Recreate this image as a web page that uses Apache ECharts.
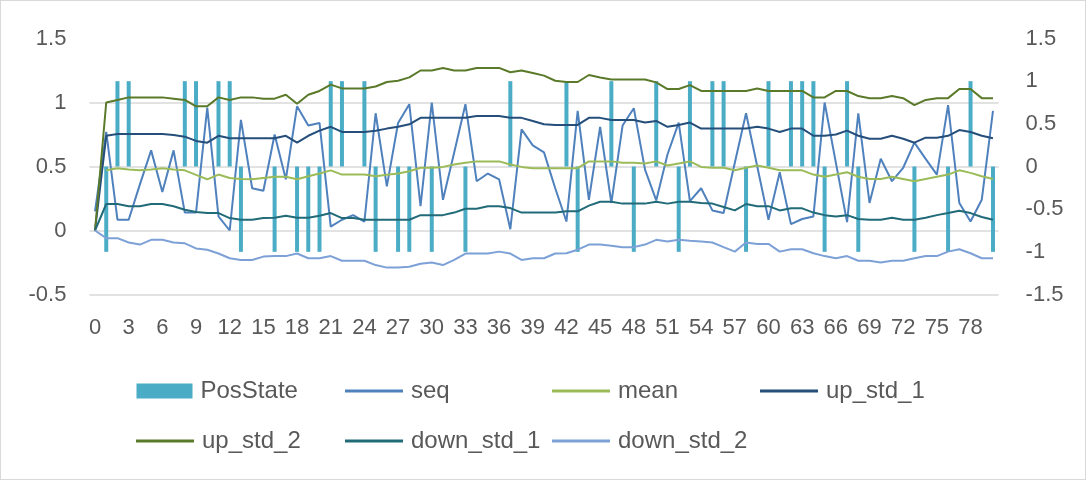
<!DOCTYPE html>
<html>
<head>
<meta charset="utf-8">
<script src="https://cdn.jsdelivr.net/npm/echarts@6/dist/echarts.min.js"></script>
<style>
html,body{margin:0;padding:0;background:#fff;}
#c{width:1084px;height:478px;border:1px solid #d9d9d9;}
</style>
</head>
<body>
<div id="c"></div>
<script>
const categories = Array.from({length: 81}, (_, i) => String(i));
const leftTicks = [-0.5, 0, 0.5, 1, 1.5];
const rightTicks = [-1.5, -1, -0.5, 0, 0.5, 1, 1.5];

const posState = [0,-1,1,1,0,0,0,0,1,1,0,1,1,-1,0,0,-1,0,-1,-1,-1,1,1,0,1,-1,0,-1,-1,0,
  -1,0,0,-1,0,0,0,1,0,0,0,0,1,-1,0,0,1,0,-1,0,1,0,-1,1,0,1,1,0,-1,0,
  1,0,1,1,1,-1,0,1,-1,0,0,0,0,-1,0,0,-1,0,1,0,-1];
const seq = [0.15,0.77,0.084,0.084,0.36,0.626,0.30,0.626,0.14,0.14,0.96,0.11,0.0,0.864,0.33,0.31,0.75,0.40,0.97,0.82,
  0.84,0.03,0.084,0.12,0.07,0.916,0.345,0.84,0.987,0.19,1.0,0.24,0.61,0.987,0.385,0.445,0.40,0.01,0.79,0.665,
  0.61,0.33,0.07,0.935,0.24,0.81,0.215,0.82,0.955,0.476,0.235,0.594,0.843,0.23,0.33,0.157,0.136,0.53,0.916,0.50,
  0.084,0.455,0.05,0.09,0.11,1.0,0.53,0.065,0.916,0.215,0.56,0.385,0.49,0.686,0.56,0.437,0.98,0.215,0.07,0.24,0.935];
const mean = [null,0.47,0.487,0.476,0.47,0.476,0.487,0.476,0.47,0.435,0.40,0.437,0.41,0.403,0.40,0.41,0.42,0.42,0.40,0.424,
  0.445,0.47,0.437,0.437,0.437,0.424,0.435,0.445,0.463,0.49,0.49,0.497,0.516,0.53,0.54,0.54,0.54,0.516,0.497,0.487,
  0.487,0.487,0.487,0.487,0.54,0.54,0.54,0.53,0.53,0.524,0.54,0.508,0.524,0.54,0.497,0.49,0.49,0.47,0.49,0.508,
  0.49,0.47,0.47,0.47,0.437,0.42,0.437,0.455,0.42,0.403,0.403,0.42,0.403,0.385,0.403,0.42,0.437,0.47,0.45,0.424,0.403];
const upStd1 = [0,0.74,0.754,0.754,0.754,0.754,0.754,0.746,0.733,0.70,0.686,0.74,0.72,0.72,0.72,0.72,0.72,0.74,0.686,0.74,
  0.78,0.81,0.77,0.77,0.77,0.78,0.796,0.81,0.83,0.88,0.88,0.88,0.88,0.88,0.895,0.895,0.895,0.88,0.88,0.856,
  0.83,0.825,0.825,0.825,0.88,0.88,0.864,0.864,0.864,0.843,0.856,0.81,0.825,0.843,0.796,0.796,0.796,0.796,0.796,0.81,
  0.796,0.77,0.796,0.796,0.74,0.74,0.75,0.78,0.74,0.717,0.717,0.74,0.717,0.686,0.725,0.725,0.74,0.785,0.77,0.74,0.72];
const upStd2 = [0,1.00,1.02,1.04,1.04,1.04,1.04,1.03,1.02,0.97,0.97,1.04,1.02,1.04,1.04,1.03,1.03,1.06,0.99,1.06,
  1.09,1.14,1.11,1.11,1.11,1.125,1.16,1.17,1.196,1.25,1.25,1.27,1.25,1.25,1.27,1.27,1.27,1.236,1.25,1.23,
  1.21,1.17,1.16,1.16,1.215,1.196,1.18,1.18,1.18,1.18,1.157,1.105,1.105,1.136,1.09,1.09,1.09,1.09,1.09,1.11,
  1.09,1.09,1.09,1.09,1.04,1.04,1.09,1.09,1.05,1.034,1.034,1.05,1.034,0.98,1.02,1.034,1.034,1.105,1.105,1.034,1.034];
const downStd1 = [0,0.207,0.207,0.19,0.19,0.207,0.207,0.19,0.162,0.144,0.136,0.136,0.097,0.084,0.084,0.097,0.10,0.115,0.10,0.10,
  0.115,0.136,0.097,0.097,0.084,0.084,0.084,0.084,0.084,0.12,0.12,0.12,0.14,0.17,0.17,0.19,0.19,0.175,0.14,0.14,
  0.14,0.14,0.15,0.15,0.194,0.225,0.225,0.21,0.21,0.21,0.225,0.21,0.225,0.225,0.215,0.21,0.183,0.157,0.207,0.19,
  0.19,0.157,0.173,0.173,0.14,0.12,0.11,0.12,0.09,0.084,0.084,0.10,0.084,0.084,0.10,0.12,0.136,0.154,0.136,0.105,0.084];
const downStd2 = [0,-0.06,-0.06,-0.094,-0.11,-0.073,-0.073,-0.094,-0.10,-0.14,-0.15,-0.18,-0.217,-0.23,-0.23,-0.204,-0.20,-0.20,-0.18,-0.217,
  -0.217,-0.20,-0.236,-0.236,-0.236,-0.27,-0.29,-0.29,-0.283,-0.26,-0.25,-0.27,-0.23,-0.18,-0.18,-0.18,-0.165,-0.18,-0.23,-0.217,
  -0.217,-0.18,-0.178,-0.15,-0.11,-0.11,-0.12,-0.13,-0.13,-0.11,-0.073,-0.086,-0.073,-0.08,-0.086,-0.094,-0.13,-0.165,-0.094,-0.105,
  -0.105,-0.165,-0.147,-0.147,-0.178,-0.20,-0.217,-0.20,-0.236,-0.236,-0.25,-0.236,-0.236,-0.217,-0.20,-0.20,-0.165,-0.147,-0.178,-0.217,-0.217];

const FONT = "'Liberation Sans','Arial',sans-serif";
const TXT = '#595959';

const lineNames = ['seq','mean','up_std_1','up_std_2','down_std_1','down_std_2'];
const lineData = [seq, mean, upStd1, upStd2, downStd1, downStd2];
const lineColors = ['#4F81BD','#9BBB59','#254E7B','#5A7A2A','#216A78','#7DA1D6'];

const legendPos = {
  'PosState': [135.5, 376], 'seq': [344, 376], 'mean': [551, 376], 'up_std_1': [759, 376],
  'up_std_2': [135, 426], 'down_std_1': [344, 426], 'down_std_2': [551, 426]
};

const chart = echarts.init(document.getElementById('c'), null, {renderer: 'canvas'});

const legends = Object.keys(legendPos).map(n => ({
  data: [n], left: legendPos[n][0], top: legendPos[n][1], padding: 0,
  icon: 'rect',
  itemWidth: n === 'PosState' ? 56 : 58, itemHeight: n === 'PosState' ? 15 : 3, itemGap: 0,
  textStyle: {fontFamily: FONT, fontSize: 24, color: TXT, lineHeight: 28, padding: [0,0,0,3]},
  selectedMode: false
}));

const series = [{
  name: 'PosState', type: 'bar', yAxisIndex: 1, data: posState,
  barWidth: 4, itemStyle: {color: '#4BACC6'}, animation: false
}].concat(lineNames.map((n, k) => ({
  name: n, type: 'line', yAxisIndex: 0, data: lineData[k], symbol: 'none',
  lineStyle: {color: lineColors[k], width: 2}, itemStyle: {color: lineColors[k]},
  animation: false, connectNulls: false
})));

chart.setOption({
  animation: false,
  grid: {left: 88.4, right: 86.4, top: 37.5, bottom: 184.5, containLabel: false, outerBoundsMode: 'none'},
  legend: legends,
  xAxis: {
    type: 'category', data: categories, boundaryGap: true,
    axisLine: {show: false}, axisTick: {show: false},
    axisLabel: {interval: 2, fontFamily: FONT, fontSize: 22, color: TXT, margin: 22}
  },
  yAxis: [{
    type: 'value', min: leftTicks[0], max: leftTicks[leftTicks.length-1], interval: 0.5,
    axisLine: {show: false}, axisTick: {show: false},
    axisLabel: {fontFamily: FONT, fontSize: 22, color: TXT, margin: 23},
    splitLine: {show: true, showMaxLine: false, lineStyle: {color: '#D9D9D9', width: 1.5}}
  }, {
    type: 'value', min: rightTicks[0], max: rightTicks[rightTicks.length-1], interval: 0.5,
    axisLine: {show: false}, axisTick: {show: false},
    axisLabel: {fontFamily: FONT, fontSize: 22, color: TXT, margin: 27},
    splitLine: {show: false}
  }],
  series: series
});
</script>
</body>
</html>
